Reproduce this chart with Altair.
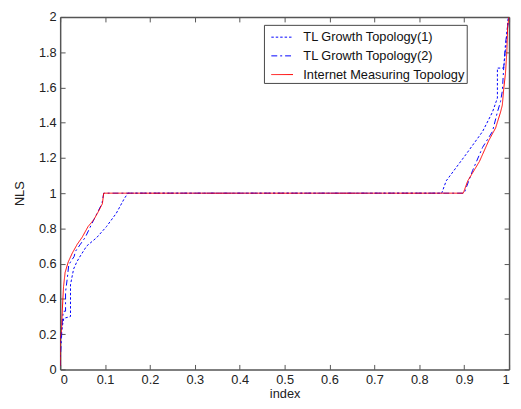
import altair as alt
import pandas as pd

series_names = ["TL Growth Topology(1)", "TL Growth Topology(2)", "Internet Measuring Topology"]

tl1_x = [0, 0.003, 0.008, 0.023, 0.023, 0.026, 0.030, 0.037, 0.045, 0.059, 0.081, 0.103, 0.125, 0.143, 0.151,
         0.85, 0.86, 0.904, 0.941, 0.963, 0.974, 0.974, 0.988, 0.992, 0.998]
tl1_y = [0.15, 0.22, 0.29, 0.30, 0.48, 0.52, 0.57, 0.61, 0.644, 0.70, 0.747, 0.81, 0.886, 0.97, 1.0,
         1.0, 1.07, 1.22, 1.35, 1.46, 1.54, 1.71, 1.71, 1.81, 2.0]

tl2_x = [0, 0, 0.003, 0.005, 0.007, 0.012, 0.012, 0.016, 0.019, 0.023, 0.031, 0.034, 0.045, 0.056, 0.075,
         0.093, 0.097, 0.90, 0.919, 0.941, 0.963, 0.974, 0.981, 0.985, 0.988, 0.992, 1.0]
tl2_y = [0.02, 0.05, 0.18, 0.28, 0.33, 0.33, 0.44, 0.52, 0.59, 0.61, 0.64, 0.67, 0.71, 0.75, 0.85,
         0.94, 1.0, 1.0, 1.13, 1.26, 1.35, 1.46, 1.52, 1.58, 1.71, 1.85, 2.0]

im_x = [0, 0, 0.003, 0.004, 0.006, 0.0075, 0.011, 0.018, 0.027, 0.038, 0.049, 0.062, 0.075, 0.086, 0.094,
        0.097, 0.898, 0.908, 0.934, 0.955, 0.970, 0.981, 0.985, 0.988, 0.992, 0.995, 0.997, 1.0]
im_y = [0.02, 0.18, 0.22, 0.29, 0.40, 0.47, 0.55, 0.61, 0.66, 0.71, 0.75, 0.81, 0.85, 0.90, 0.94,
        1.0, 1.0, 1.07, 1.18, 1.30, 1.37, 1.46, 1.50, 1.59, 1.68, 1.80, 1.95, 2.0]

x_ticks = [0, 0.1, 0.2, 0.3, 0.4, 0.5, 0.6, 0.7, 0.8, 0.9, 1]
y_ticks = [0, 0.2, 0.4, 0.6, 0.8, 1, 1.2, 1.4, 1.6, 1.8, 2]

rows = []
for name, xs, ys in zip(series_names, [tl1_x, tl2_x, im_x], [tl1_y, tl2_y, im_y]):
    for i, (a, b) in enumerate(zip(xs, ys)):
        rows.append({"series": name, "x": a, "y": b, "order": i})
df = pd.DataFrame(rows)

FONT = "Liberation Sans"
AXC = "#555555"
neg_tick = {"expr": "-5"}

color = alt.Color("series:N", scale=alt.Scale(domain=series_names, range=["#0000ff", "#0000ff", "#ff0000"]),
                  legend=alt.Legend(title=None, orient="none", legendX=207, legendY=8,
                                    symbolType="stroke", symbolSize=484, symbolStrokeWidth=1,
                                    labelFontSize=13, labelFont=FONT, labelColor="#111111",
                                    labelLimit=400,
                                    fillColor="white", strokeColor="#444444", padding=1,
                                    symbolOffset=6, labelOffset=10, rowPadding=-5))
dash = alt.StrokeDash("series:N", scale=alt.Scale(domain=series_names, range=[[2.5, 2], [6, 3, 2, 3], [1, 0]]),
                      legend=None)

xs = alt.Scale(domain=[0, 1], nice=False, zero=False)
ys = alt.Scale(domain=[0, 2], nice=False, zero=False)

main = alt.Chart(df).mark_line(strokeWidth=1, clip=True).encode(
    x=alt.X("x:Q", scale=xs, axis=alt.Axis(orient="bottom", values=x_ticks, format="~g", title="index",
                                           tickSize=neg_tick, labelPadding=9, grid=False,
                                           titlePadding=2)),
    y=alt.Y("y:Q", scale=ys, axis=alt.Axis(orient="left", values=y_ticks, format="~g", title="NLS",
                                           tickSize=neg_tick, labelPadding=9, grid=False,
                                           titlePadding=12)),
    color=color,
    strokeDash=dash,
    order="order:Q",
)

frame = alt.Chart(df).mark_line(opacity=0).encode(
    x=alt.X("x:Q", scale=xs, axis=alt.Axis(orient="top", values=x_ticks, labels=False, title=None,
                                           tickSize=neg_tick, grid=False)),
    y=alt.Y("y:Q", scale=ys, axis=alt.Axis(orient="right", values=y_ticks, labels=False, title=None,
                                           tickSize=neg_tick, grid=False)),
    detail="series:N",
)

chart = alt.layer(main, frame).resolve_axis(x="independent", y="independent").properties(
    width=456, height=358,
    autosize=alt.AutoSizeParams(type="none"),
    padding={"left": 53, "top": 6, "right": 4, "bottom": 30},
    background="white",
).configure_axis(
    domainColor=AXC, domainWidth=1.5, tickColor=AXC, tickWidth=1,
    labelFont=FONT, labelFontSize=13, labelColor="#222222",
    titleFont=FONT, titleFontSize=13, titleColor="#222222", titleFontWeight="normal",
).configure_view(stroke=None)

chart.save("out.html", embed_options={"renderer": "svg", "actions": False})
